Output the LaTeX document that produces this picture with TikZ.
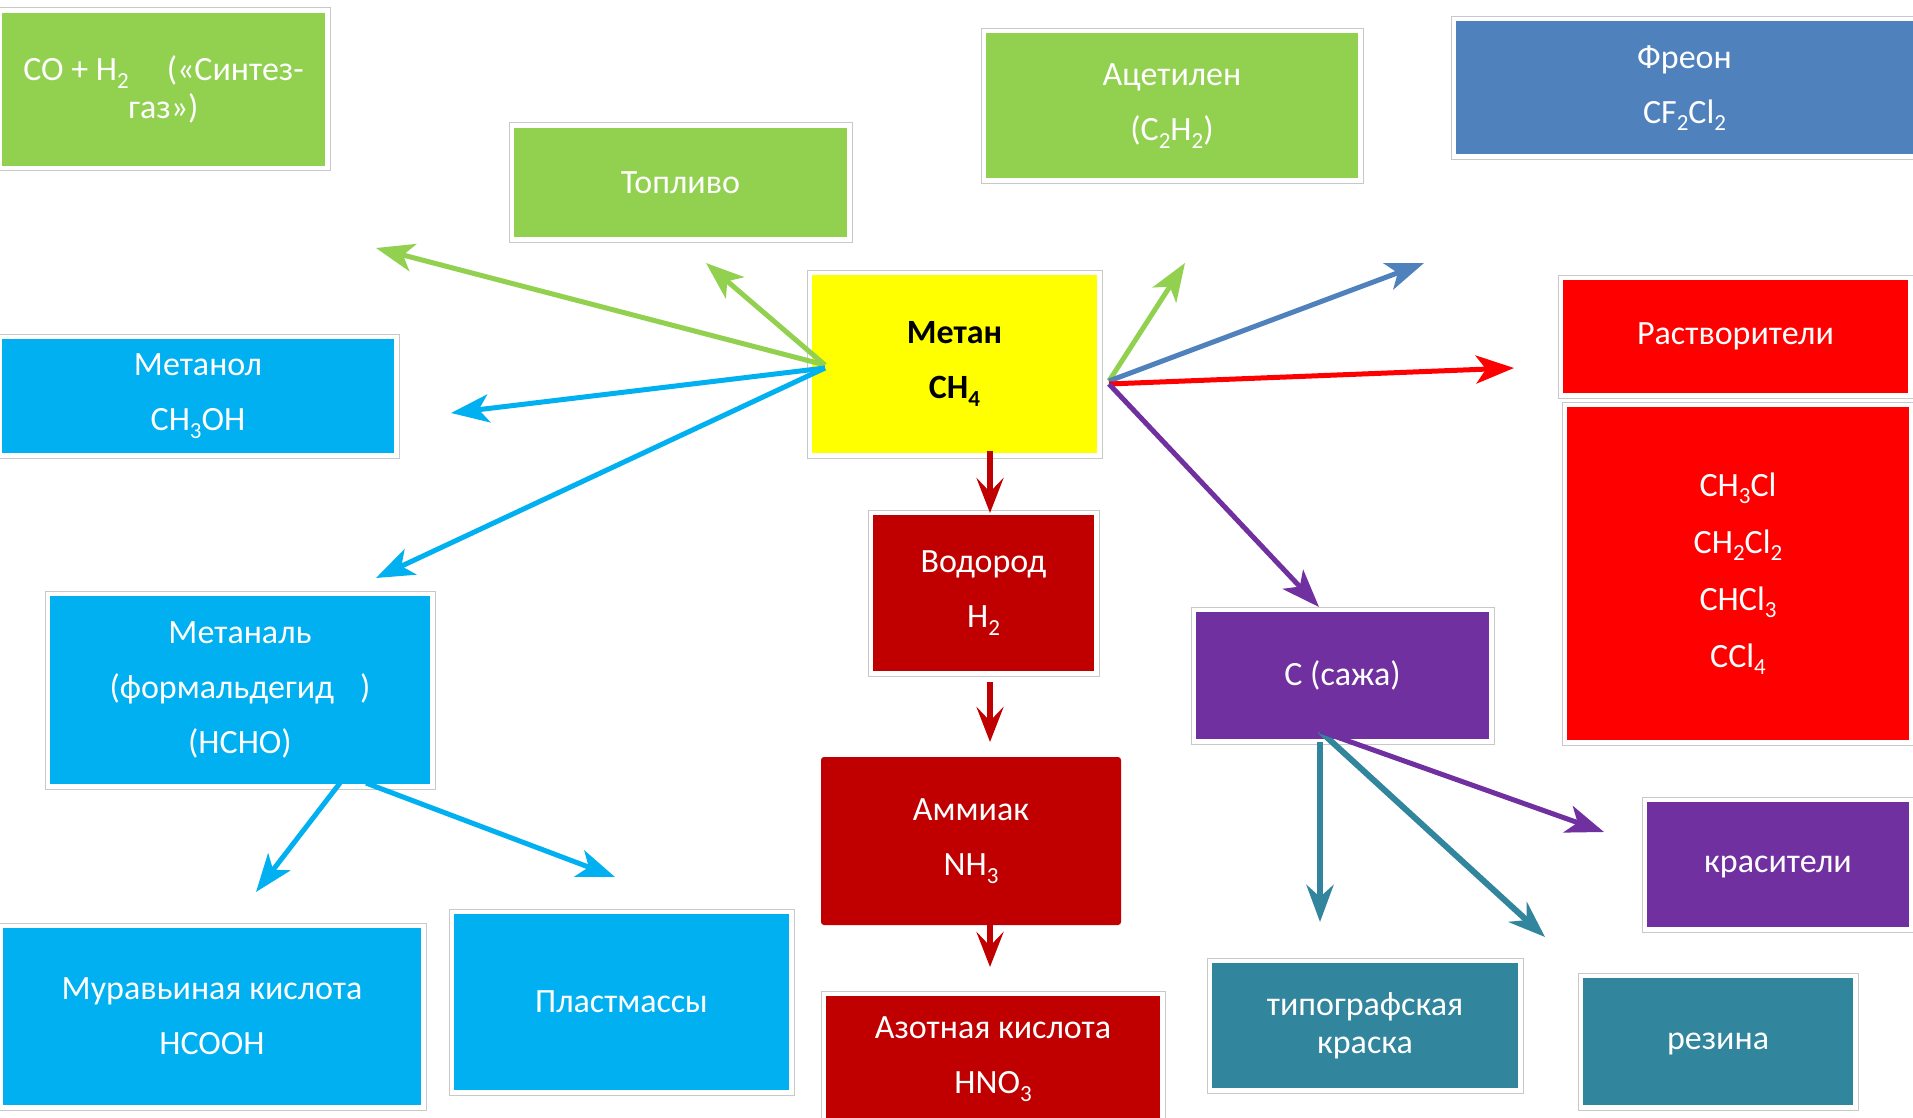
\documentclass[tikz,border=0pt]{standalone}
\usepackage{fontspec}
\setmainfont{Carlito}
\usetikzlibrary{arrows.meta}

\definecolor{cgreen}{HTML}{92D050}
\definecolor{cblue}{HTML}{4F81BD}
\definecolor{ccyan}{HTML}{00B0F0}
\definecolor{cyellow}{HTML}{FFFF00}
\definecolor{cdarkred}{HTML}{C00000}
\definecolor{cred}{HTML}{FF0000}
\definecolor{cpurple}{HTML}{7030A0}
\definecolor{cteal}{HTML}{31859C}
\definecolor{cframe}{HTML}{C8C8C8}

% chemical subscript
\newcommand\csub[1]{\raisebox{-0.22em}{\fontsize{23}{23}\selectfont #1}}

\tikzset{
  card/.style={rectangle, inner sep=0pt, fill=white, draw=cframe, line width=1pt,
    text=white, align=center, font=\fontsize{34}{55}\selectfont,
    path picture={\fill[#1]
      ([shift={(5pt,-5pt)}]path picture bounding box.north west) rectangle
      ([shift={(-5pt,5pt)}]path picture bounding box.south east);}},
  link/.style={line width=5pt, -{Stealth[length=38pt,width=28pt,inset=10pt]}},
  flow/.style={line width=6.5pt, draw=cdarkred, -{Stealth[length=35pt,width=27pt,inset=14pt]}},
  soot/.style={line width=6pt, -{Stealth[length=37pt,width=27pt,inset=12pt]}},
}

\begin{document}
\begin{tikzpicture}[x=1pt, y=-1pt]
\clip (0,0) rectangle (1913,1118);
\fill[white] (0,0) rectangle (1913,1118);

% --- boxes ---
\node[card=cgreen, minimum width=333pt, minimum height=163pt, font=\fontsize{34}{38}\selectfont]
  (syn) at (163.5,89.5) {CO + H\csub{2}\hspace{38pt}(«Синтез-\\газ»)};
\node[card=cgreen, minimum width=343pt, minimum height=119pt] (fuel) at (680.5,182.5) {Топливо};
\node[card=cgreen, minimum width=382pt, minimum height=155pt] (acet) at (1172,106)
  {Ацетилен\\(C\csub{2}H\csub{2})};
\node[card=cblue, minimum width=467pt, minimum height=143pt] (freon) at (1684.5,88)
  {Фреон\\CF\csub{2}Cl\csub{2}};
\node[card=cyellow, minimum width=295pt, minimum height=188pt, text=black,
  font=\fontsize{34}{55}\selectfont\bfseries] (metan) at (954.5,364) {Метан\\CH\csub{4}};
\node[card=cred, minimum width=355pt, minimum height=123pt] (solv) at (1735.5,336.5) {Растворители};
\node[card=cred, minimum width=352pt, minimum height=343pt, font=\fontsize{34}{57}\selectfont]
  (chlor) at (1738,573.5) {CH\csub{3}Cl\\CH\csub{2}Cl\csub{2}\\CHCl\csub{3}\\CCl\csub{4}};
\node[card=ccyan, minimum width=402pt, minimum height=124pt] (meoh) at (198,396)
  {Метанол\\CH\csub{3}OH};
\node[card=ccyan, minimum width=390pt, minimum height=198pt] (ch2o) at (240,690)
  {Метаналь\\(формальдегид\hspace{26pt})\\(HCHO)};
\node[card=cdarkred, minimum width=231pt, minimum height=166pt] (hydro) at (983.5,593)
  {Водород\\H\csub{2}};
\node[rectangle, fill=cdarkred, rounded corners=3pt, minimum width=300pt, minimum height=168pt,
  text=white, align=center, font=\fontsize{34}{55}\selectfont] (ammonia) at (971,841)
  {Аммиак\\NH\csub{3}};
\node[card=cdarkred, minimum width=344pt, minimum height=136pt] (nitric) at (993,1059)
  {Азотная кислота\\HNO\csub{3}};
\node[card=cpurple, minimum width=303pt, minimum height=137pt] (carbon) at (1342.5,675.5) {С (сажа)};
\node[card=cpurple, minimum width=272pt, minimum height=135pt] (dyes) at (1778,864.5)
  {\vphantom{Р}красители};
\node[card=cteal, minimum width=316pt, minimum height=135pt, font=\fontsize{34}{38}\selectfont]
  (ink) at (1365,1025.5) {типографская\\краска};
\node[card=cteal, minimum width=280pt, minimum height=137pt] (rubber) at (1718,1041.5)
  {\vphantom{Р}резина};
\node[card=ccyan, minimum width=428pt, minimum height=187pt] (formic) at (212,1016.5)
  {Муравьиная кислота\\HCOOH};
\node[card=ccyan, minimum width=345pt, minimum height=186pt] (plast) at (621.5,1002) {Пластмассы};

% --- connector ends ---
\coordinate (mL1) at (825,365);
\coordinate (mL2) at (825,368);
\coordinate (mR1) at (1109,381);
\coordinate (mR2) at (1109,384);
\coordinate (tSyn) at (376,248);
\coordinate (tFuel) at (706,263);
\coordinate (tMeoh) at (451,413);
\coordinate (tCh2o) at (376,578);
\coordinate (tAcet) at (1185,263);
\coordinate (tFreon) at (1424,263);
\coordinate (tSolv) at (1514,368);
\coordinate (tCarbon) at (1319,607);
\coordinate (mB) at (990,451);
\coordinate (tHydro) at (990,513);
\coordinate (hB) at (990,682);
\coordinate (tAmmonia) at (990,742);
\coordinate (aB) at (990,922);
\coordinate (tNitric) at (990,967);
\coordinate (fB1) at (340,783);
\coordinate (fB2) at (366,783);
\coordinate (tFormic) at (256,892);
\coordinate (tPlast) at (615,877);
\coordinate (cB1) at (1320,742);
\coordinate (cB2) at (1320,731);
\coordinate (tInk) at (1320,922);
\coordinate (tRubber) at (1545,937);
\coordinate (tDyes) at (1604,832);

% --- arrows from methane ---
\draw[link, cgreen] (mL1) -- (tSyn);
\draw[link, cgreen] (mL1) -- (tFuel);
\draw[link, ccyan] (mL2) -- (tMeoh);
\draw[link, ccyan] (mL2) -- (tCh2o);
\draw[link, cgreen] (mR1) -- (tAcet);
\draw[link, cblue] (mR1) -- (tFreon);
\draw[link, cred] (mR2) -- (tSolv);
\draw[link, cpurple] (mR2) -- (tCarbon);

% --- hydrogen chain ---
\draw[flow] (mB) -- (tHydro);
\draw[flow] (hB) -- (tAmmonia);
\draw[flow] (aB) -- (tNitric);

% --- formaldehyde products ---
\draw[link, ccyan] (fB1) -- (tFormic);
\draw[link, ccyan] (fB2) -- (tPlast);

% --- carbon products ---
\draw[soot, cteal] (cB1) -- (tInk);
\draw[soot, cteal] (cB2) -- (tRubber);
\draw[link, cpurple] (cB2) -- (tDyes);
\end{tikzpicture}
\end{document}
